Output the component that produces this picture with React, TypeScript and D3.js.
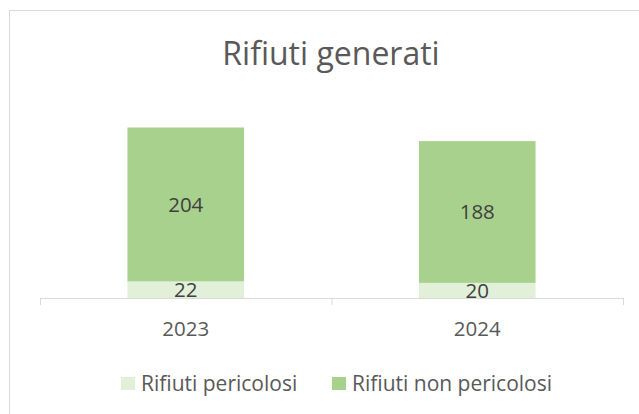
import * as d3 from "d3";

const categories = ["2023", "2024"];
const pericolosi = [22, 20];
const nonPericolosi = [204, 188];
const seriesNames = ["Rifiuti pericolosi", "Rifiuti non pericolosi"];
const seriesColors = ["#e2f0d9", "#a9d18e"];

const W = 639;
const H = 414;
const textColor = "#595959";
const font = "'Open Sans', sans-serif";

export default function App() {
  const x = d3
    .scaleBand<string>()
    .domain(categories)
    .range([40, 623])
    .paddingInner(0.6)
    .paddingOuter(0.3);

  const y = d3.scaleLinear().domain([0, 250]).range([298, 109.4]);

  const rows = categories.map((c, i) => ({
    cat: c,
    p: pericolosi[i],
    np: nonPericolosi[i],
  }));

  const stack = d3.stack<any>().keys(["p", "np"])(rows);

  // category boundaries on the axis
  const tickXs = d3.range(categories.length + 1).map((k) => x.range()[0] + k * x.step());

  return (
    <div style={{ position: "absolute", left: 0, top: 0 }}>
      <svg width={W} height={H} style={{ display: "block", fontFamily: font }}>
        <rect x={0} y={0} width={W} height={H} fill="white" />
        <rect x={9.5} y={10.5} width={700} height={500} fill="none" stroke="#d9d9d9" />

        <text x={331} y={65} textAnchor="middle" fontSize={32} fill={textColor}>
          Rifiuti generati
        </text>

        {stack.map((s, si) => (
          <g key={si}>
            {s.map((d, i) => (
              <g key={i}>
                <rect
                  x={x(rows[i].cat)}
                  y={y(d[1])}
                  width={x.bandwidth()}
                  height={y(d[0]) - y(d[1])}
                  fill={seriesColors[si]}
                />
                <text
                  x={(x(rows[i].cat) ?? 0) + x.bandwidth() / 2}
                  y={(y(d[0]) + y(d[1])) / 2}
                  dy="0.36em"
                  textAnchor="middle"
                  fontSize={20.5}
                  fill="#404040"
                >
                  {d[1] - d[0]}
                </text>
              </g>
            ))}
          </g>
        ))}

        <line x1={40} x2={623} y1={298.5} y2={298.5} stroke="#d9d9d9" />
        {tickXs.map((t, i) => (
          <line key={i} x1={t + 0.5} x2={t + 0.5} y1={298} y2={305} stroke="#d9d9d9" />
        ))}

        {categories.map((c) => (
          <text
            key={c}
            x={(x(c) ?? 0) + x.bandwidth() / 2}
            y={336}
            textAnchor="middle"
            fontSize={20.5}
            fill={textColor}
          >
            {c}
          </text>
        ))}

        {seriesNames.map((n, i) => {
          const lx = [121, 332][i];
          return (
            <g key={n}>
              <rect x={lx} y={377} width={14} height={13} fill={seriesColors[i]} />
              <text x={lx + 20} y={390.5} fontSize={21} fill={textColor}>
                {n}
              </text>
            </g>
          );
        })}
      </svg>
    </div>
  );
}
